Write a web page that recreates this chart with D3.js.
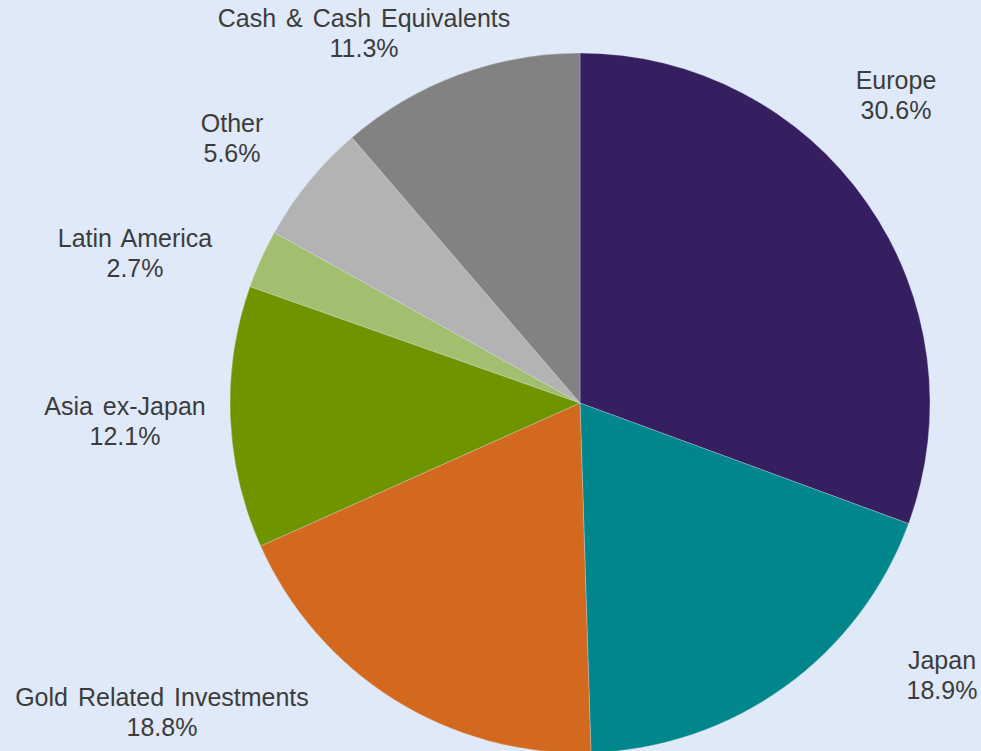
<!DOCTYPE html>
<html>
<head>
<meta charset="utf-8">
<script src="https://cdn.jsdelivr.net/npm/d3@7"></script>
<style>
  html, body { margin: 0; padding: 0; background: #dfe9f8; overflow: hidden; }
  .lbl { font-family: "Liberation Sans", Arial, sans-serif; font-size: 25px; fill: #3c3c3c; word-spacing: 3px; }
</style>
</head>
<body>
<script>
const categories = ["Europe", "Japan", "Gold Related Investments", "Asia ex-Japan",
                    "Latin America", "Other", "Cash & Cash Equivalents"];
const weights = [30.6, 18.9, 18.8, 12.1, 2.7, 5.6, 11.3];
const sliceColors = ["#361f60", "#00868b", "#d2691e", "#6e9400",
                     "#a2bf6f", "#b3b3b3", "#828282"];

let WIDTH = 981,
    HEIGHT = 751;

// label anchors (center x, first baseline), placed by hand like the original
let labelAt = {
  "Europe": [896, 89],
  "Japan": [942, 669],
  "Gold Related Investments": [162, 706],
  "Asia ex-Japan": [125, 415],
  "Latin America": [135, 247],
  "Other": [232, 132],
  "Cash & Cash Equivalents": [364, 27]
};

let cx = 580, cy = 403, radius = 350;

let svg = d3.select("body").append("svg")
  .attr("width", WIDTH)
  .attr("height", HEIGHT);

svg.append("rect")
  .attr("width", WIDTH)
  .attr("height", HEIGHT)
  .attr("fill", "#dfe9f8");

let data = categories.map((c, i) => ({name: c, value: weights[i]}));

let color = d3.scaleOrdinal()
  .domain(categories)
  .range(sliceColors);

let pie = d3.pie()
  .value(d => d.value)
  .sort(null);

let arc = d3.arc()
  .innerRadius(0)
  .outerRadius(radius);

let g = svg.append("g")
  .attr("transform", "translate(" + cx + "," + cy + ")");

g.selectAll(".arc")
  .data(pie(data))
  .enter().append("path")
    .attr("class", "arc")
    .attr("d", arc)
    .attr("fill", d => color(d.data.name))
    .attr("stroke", "#dfe9f8")
    .attr("stroke-opacity", 0.6)
    .attr("stroke-width", 0.5);

let labels = svg.selectAll(".lbl")
  .data(data)
  .enter().append("text")
    .attr("class", "lbl")
    .attr("text-anchor", "middle")
    .attr("transform", d => "translate(" + labelAt[d.name][0] + "," + labelAt[d.name][1] + ")");

labels.append("tspan")
  .attr("x", 0)
  .attr("y", 0)
  .text(d => d.name);

labels.append("tspan")
  .attr("x", 0)
  .attr("y", 30)
  .text(d => d3.format(".1f")(d.value) + "%");
</script>
</body>
</html>
